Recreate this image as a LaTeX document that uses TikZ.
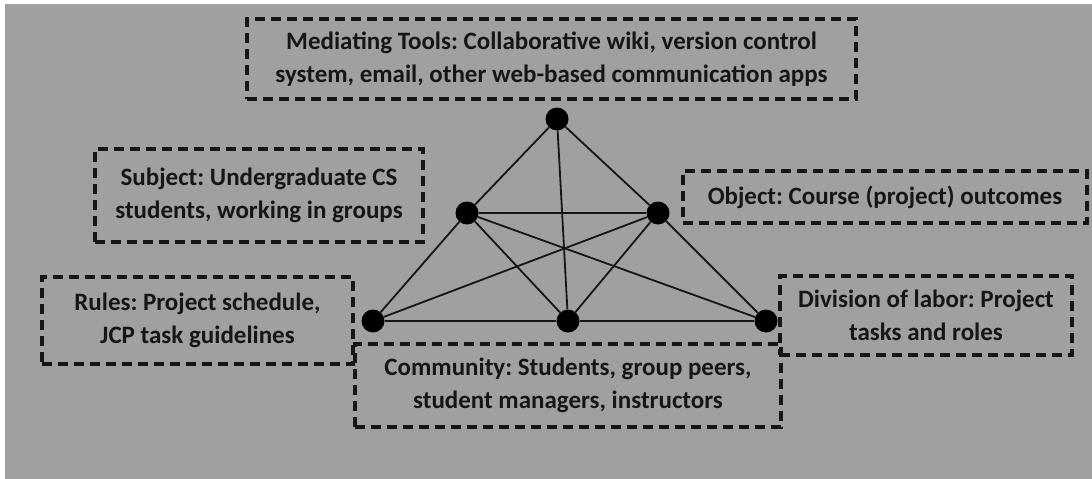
\documentclass[tikz,border=0pt]{standalone}
\usepackage{fontspec}
\setmainfont{Carlito}
\usepackage{tikz}
\usetikzlibrary{positioning}
\definecolor{bggray}{RGB}{160,160,160}
\definecolor{inkgray}{RGB}{22,22,22}
\frenchspacing

\begin{document}
\begin{tikzpicture}[x=1pt,y=-1pt]
        \useasboundingbox (0,0) rectangle (1092,479);
        \fill[bggray] (5,4) rectangle (1092,479);
        \begin{scope}[every node/.style={draw=inkgray,line width=3.2pt,dash pattern=on 10pt off 6pt,align=center,inner sep=0pt,text=inkgray,font=\fontsize{25}{33}\selectfont\bfseries}]
          \node[minimum width=609,minimum height=80] (tools) at (551.5,59) {Mediating Tools: Collaborative wiki, version control\\system, email, other web-based communication apps};
          \node[minimum width=328,minimum height=93] (subject) at (259,195.5) {Subject: Undergraduate CS\\students, working in groups};
          \node[minimum width=404,minimum height=52] (object) at (885,197) {Object: Course (project) outcomes};
          \node[minimum width=311,minimum height=87] (rules) at (197.5,320.5) {Rules: Project schedule,\\JCP task guidelines};
          \node[minimum width=292,minimum height=79] (division) at (926,315.5) {Division of labor: Project\\tasks and roles};
          \node[minimum width=426,minimum height=83] (community) at (568,385.5) {Community: Students, group peers,\\student managers, instructors};
        \end{scope}
        \begin{scope}[every node/.style={fill=black,circle,inner sep=0pt,minimum size=23}]
          \node (t) at (557,119) {};
          \node (l) at (467,213) {};
          \node (r) at (658,213) {};
          \node (bl) at (373,321) {};
          \node (bm) at (568,321) {};
          \node (br) at (766,321) {};
        \end{scope}
        \begin{scope}[every edge/.style={draw=inkgray,line width=1.8pt}]
          \path (t) edge (l);
          \path (t) edge (r);
          \path (t) edge (bm);
          \path (l) edge (r);
          \path (l) edge (bl);
          \path (l) edge (bm);
          \path (l) edge (br);
          \path (r) edge (bl);
          \path (r) edge (bm);
          \path (r) edge (br);
          \path (bl) edge (bm);
          \path (bm) edge (br);
        \end{scope}
      \end{tikzpicture}
\end{document}
